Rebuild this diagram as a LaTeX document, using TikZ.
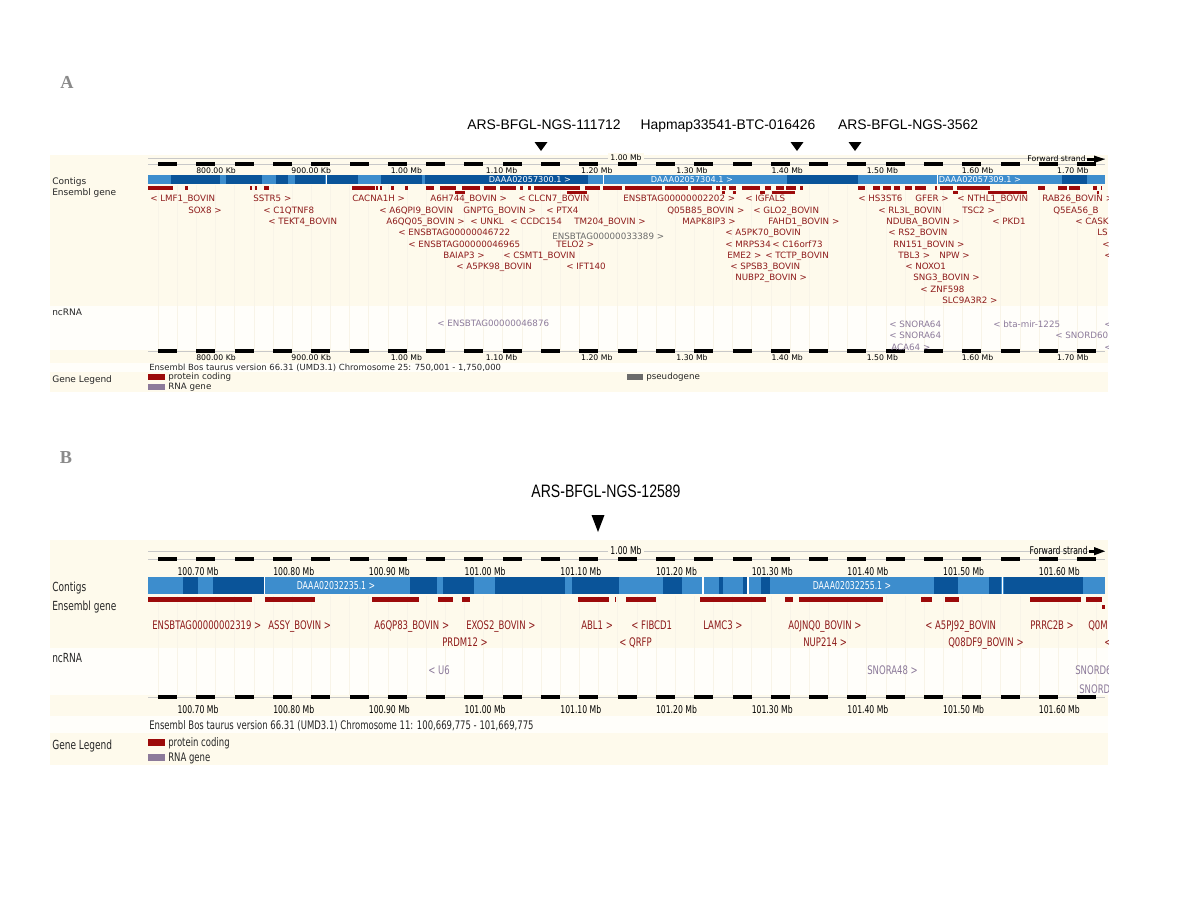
\documentclass[tikz,border=0pt]{standalone}
\usepackage{fontspec}
\usepackage{xcolor}
\usepackage{tikz}
\usetikzlibrary{positioning}
\newfontfamily\gbsans{DejaVu Sans}
\newfontfamily\gbnarrow{DejaVu Sans}[FakeStretch=0.72]
\newfontfamily\gbarial{Liberation Sans}
\newfontfamily\gbarialn{Liberation Sans}[FakeStretch=0.78]
\newfontfamily\gbserif{Liberation Serif}
\definecolor{gbCream}{HTML}{FEFAEC}
\definecolor{gbPale}{HTML}{FFFEFA}
\definecolor{gbGrid}{HTML}{F8F4E8}
\definecolor{gbLight}{HTML}{3D8DCD}
\definecolor{gbDark}{HTML}{0A5499}
\definecolor{gbGene}{HTML}{9C0A0A}
\definecolor{gbText}{HTML}{8E1B1B}
\definecolor{gbRNA}{HTML}{8C7A9A}
\definecolor{gbPseudo}{HTML}{6B6B6B}
\definecolor{gbRule}{HTML}{C8C8C8}
\definecolor{gbLetter}{HTML}{8A8A8A}
\tikzset{
  gbletter/.style={anchor=base, inner sep=0pt, text=gbLetter, font=\gbserif\bfseries\fontsize{13}{13}\selectfont},
  gbmarkA/.style={anchor=base, inner sep=0pt, font=\gbarial\fontsize{9.9}{11}\selectfont},
  gbmarkB/.style={anchor=base, inner sep=0pt, font=\gbarialn\fontsize{12.8}{14}\selectfont},
  gbtrackA/.style={anchor=west, inner sep=0pt, text=black!85, font=\gbsans\fontsize{6.4}{7}\selectfont},
  gbtrackB/.style={anchor=west, inner sep=0pt, text=black!85, font=\gbnarrow\fontsize{8.9}{10}\selectfont},
  gbtickA/.style={anchor=base, inner sep=0pt, font=\gbsans\fontsize{5.5}{6}\selectfont},
  gbtickB/.style={anchor=base, inner sep=0pt, font=\gbnarrow\fontsize{7.6}{8}\selectfont},
  gblabA/.style={anchor=base west, inner sep=0pt, text=gbText, font=\gbsans\fontsize{6.2}{7}\selectfont},
  gblabB/.style={anchor=base west, inner sep=0pt, text=gbText, font=\gbnarrow\fontsize{8.4}{9}\selectfont},
  gbcontA/.style={inner sep=0pt, text=white, font=\gbsans\fontsize{5.8}{6}\selectfont},
  gbcontB/.style={inner sep=0pt, text=white, font=\gbnarrow\fontsize{7.7}{8}\selectfont},
  gbgrid/.style={draw=gbGrid, line width=0.3pt},
  gbrule/.style={draw=gbRule, line width=0.4pt}
}
\begin{document}
\begin{tikzpicture}[x=0.025cm,y=-0.025cm]
\useasboundingbox (0,0) rectangle (1200,900);
\fill[white] (0,0) rectangle (1200,900);

% ---------- panel A ----------
\node[gbletter] (letA) at (67,88) {A};
\fill[gbCream] (50,155) rectangle (1108,392);
\fill[gbPale] (50,306) rectangle (1108,350);
\fill[gbPale] (50,363) rectangle (1108,372);
\foreach \k in {0,...,49}
  \draw[gbgrid] ({158+19.15*\k},185) -- ++(0,165);

\node[gbmarkA] (mA1) at (544,129) {ARS-BFGL-NGS-111712};
\node[gbmarkA] (mA2) at (728,129) {Hapmap33541-BTC-016426};
\node[gbmarkA] (mA3) at (908,129) {ARS-BFGL-NGS-3562};
\foreach \mx in {541,797,855}
  \fill (\mx-6.5,142) -- (\mx+6.5,142) -- (\mx,151) -- cycle;

\draw[gbrule] (148,158) -- (1105,158);
\node[gbtickA, anchor=center, fill=gbCream, inner sep=1.5pt] (oneA) at (626,158) {1.00 Mb};
\node[gbtickA, anchor=east] (fwdA) at (1086,159) {Forward strand};
\fill (1087,158) rectangle (1096,160.5);
\fill (1094,155.5) -- (1105,159.2) -- (1094,163) -- cycle;
\foreach \ry in {164,351} {
  \draw[gbrule] (148,\ry) -- (1105,\ry);
  \foreach \k in {0,...,24}
    \fill ({158+38.3*\k},\ry-1.6) rectangle ++(19,3.2);
}
\foreach \t [count=\k from 0] in {800.00 Kb,900.00 Kb,1.00 Mb,1.10 Mb,1.20 Mb,1.30 Mb,1.40 Mb,1.50 Mb,1.60 Mb,1.70 Mb} {
  \node[gbtickA] (tA\k) at ({216+95.2*\k},173.8) {\t};
  \node[gbtickA] (bA\k) at ({216+95.2*\k},360.5) {\t};
}

\fill[gbLight] (148,175) rectangle (1105,184);
\foreach \a/\b in {171/220,226/262,276/288,295/325,327/358,381/422,425/588,787/858,1062/1087}
  \fill[gbDark] (\a,175) rectangle (\b,184);
\foreach \a in {326,603,937}
  \draw[white, line width=0.5pt] (\a,175) -- (\a,184);
\node[gbcontA] (cA1) at (530,179.5) {DAAA02057300.1 >};
\node[gbcontA] (cA2) at (692,179.5) {DAAA02057304.1 >};
\node[gbcontA] (cA3) at (980,179.5) {DAAA02057309.1 >};

\foreach \a/\b in {148/173,185/188,250/252,255/257,264/269,352/375,376/378,380/382,391/394,405/408,426/434,440/456,462/480,484/496,500/516,520/523,528/531,534/580,585/600,603/622,625/662,665/688,691/712,716/720,722/726,729/736,742/760,765/771,776/784,786/796,800/803,858/865,873/880,883/891,894/900,905/912,915/926,935/937,940/953,957/990,1038/1045,1058/1067,1069/1080,1093/1097,1101/1102}
  \fill[gbGene] (\a,186) rectangle (\b,189.5);
\foreach \a/\b in {455/465,567/587,722/725,733/736,760/765,772/795,953/958,988/1027,1097/1099}
  \fill[gbGene] (\a,191) rectangle (\b,194);

\node[gbtrackA] (trA1) at (52,182) {Contigs};
\node[gbtrackA] (trA2) at (52,193) {Ensembl gene};
\node[gbtrackA] (trA3) at (52,312) {ncRNA};
\node[gbtrackA] (trA4) at (52,380) {Gene Legend};

\begin{scope}
\clip (148,150) rectangle (1108,400);
\foreach \gx/\gr/\gt [count=\gi] in {
  150/1/< LMF1\_BOVIN, 253/1/SSTR5 >, 352/1/CACNA1H >, 430/1/A6H744\_BOVIN >, 518/1/< CLCN7\_BOVIN,
  623/1/ENSBTAG00000002202 >, 745/1/< IGFALS, 858/1/< HS3ST6, 915/1/GFER >, 957/1/< NTHL1\_BOVIN, 1042/1/RAB26\_BOVIN >,
  188/2/SOX8 >, 263/2/< C1QTNF8, 379/2/< A6QPI9\_BOVIN, 463/2/GNPTG\_BOVIN >, 546/2/< PTX4, 667/2/Q05B85\_BOVIN >,
  753/2/< GLO2\_BOVIN, 878/2/< RL3L\_BOVIN, 962/2/TSC2 >, 1053/2/Q5EA56\_B,
  268/3/< TEKT4\_BOVIN, 386/3/A6QQ05\_BOVIN >, 470/3/< UNKL, 510/3/< CCDC154, 574/3/TM204\_BOVIN >,
  682/3/MAPK8IP3 >, 768/3/FAHD1\_BOVIN >, 886/3/NDUBA\_BOVIN >, 992/3/< PKD1, 1075/3/< CASKI,
  398/4/< ENSBTAG00000046722, 725/4/< A5PK70\_BOVIN, 888/4/< RS2\_BOVIN, 1097/4/LS,
  408/5/< ENSBTAG00000046965, 556/5/TELO2 >, 725/5/< MRPS34, 772/5/< C16orf73, 893/5/RN151\_BOVIN >, 1102/5/<,
  443/6/BAIAP3 >, 503/6/< CSMT1\_BOVIN, 727/6/EME2 >, 765/6/< TCTP\_BOVIN, 898/6/TBL3 >, 939/6/NPW >, 1104/6/<,
  456/7/< A5PK98\_BOVIN, 566/7/< IFT140, 730/7/< SPSB3\_BOVIN, 905/7/< NOXO1,
  735/8/NUBP2\_BOVIN >, 913/8/SNG3\_BOVIN >, 920/9/< ZNF598, 942/10/SLC9A3R2 >}
  \node[gblabA] (gA\gi) at (\gx,{190.5+11.3*\gr}) {\gt};
\node[gblabA, text=gbPseudo] (gA0) at (552,239.7) {ENSBTAG00000033389 >};
\foreach \gx/\gy/\gt [count=\gi] in {
  437/323/< ENSBTAG00000046876, 889/324/< SNORA64, 889/335.5/< SNORA64, 891/347/ACA64 >,
  993/324/< bta-mir-1225, 1055/335.5/< SNORD60, 1104/324/<, 1104/347/<}
  \node[gblabA, text=gbRNA] (rA\gi) at (\gx,\gy+3.2) {\gt};
\end{scope}

\node[gblabA, text=black!85, font=\gbsans\fontsize{6}{7}\selectfont] (chrA) at (149,370.5)
  {Ensembl Bos taurus version 66.31 (UMD3.1) Chromosome 25: 750,001 - 1,750,000};
\fill[gbGene] (148,374) rectangle (165,380);
\fill[gbRNA] (148,383.5) rectangle (165,389.5);
\fill[gbPseudo] (627,374) rectangle (643,380);
\node[gblabA, text=black!85] (lgA1) at (168,379.5) {protein coding};
\node[gblabA, text=black!85] (lgA2) at (168,389) {RNA gene};
\node[gblabA, text=black!85] (lgA3) at (646,379.5) {pseudogene};

% ---------- panel B ----------
\node[gbletter] (letB) at (66,463) {B};
\fill[gbCream] (50,540) rectangle (1108,765);
\fill[gbPale] (50,648) rectangle (1108,695);
\fill[gbPale] (50,716) rectangle (1108,733);
\foreach \k in {0,...,49}
  \draw[gbgrid] ({158+19.15*\k},596) -- ++(0,99);

\node[gbmarkB] (mB1) at (606,497.5) {ARS-BFGL-NGS-12589};
\fill (591.5,515) -- (604.5,515) -- (598,532) -- cycle;

\draw[gbrule] (148,551) -- (1105,551);
\node[gbtickB, anchor=center, fill=gbCream, inner sep=1.5pt] (oneB) at (626,551) {1.00 Mb};
\node[gbtickB, anchor=east] (fwdB) at (1088,551) {Forward strand};
\fill (1089,549.8) rectangle (1097,552.6);
\fill (1094,547) -- (1105,551.2) -- (1094,555.4) -- cycle;
\foreach \ry in {559,697} {
  \draw[gbrule] (148,\ry) -- (1105,\ry);
  \foreach \k in {0,...,24}
    \fill ({158+38.3*\k},\ry-1.6) rectangle ++(19,3.2);
}
\foreach \t [count=\k from 0] in {100.70 Mb,100.80 Mb,100.90 Mb,101.00 Mb,101.10 Mb,101.20 Mb,101.30 Mb,101.40 Mb,101.50 Mb,101.60 Mb} {
  \node[gbtickB] (tB\k) at ({198+95.7*\k},575) {\t};
  \node[gbtickB] (bB\k) at ({198+95.7*\k},713) {\t};
}

\fill[gbLight] (148,577) rectangle (1105,594);
\foreach \a/\b in {183/198,213/264,410/437,443/474,495/565,572/619,663/682,719/723,743/747,761/770,934/958,989/1001,1004/1083}
  \fill[gbDark] (\a,577) rectangle (\b,594);
\foreach \a in {264.5,703,748,1002.5}
  \draw[white, line width=0.8pt] (\a,577) -- (\a,594);
\node[gbcontB] (cB1) at (336,585.5) {DAAA02032235.1 >};
\node[gbcontB] (cB2) at (852,585.5) {DAAA02032255.1 >};

\foreach \a/\b in {148/252,265/315,372/419,438/453,462/470,578/609,615/616,626/656,700/766,785/793,799/883,921/932,945/959,1030/1081,1086/1102}
  \fill[gbGene] (\a,597) rectangle (\b,602);
\fill[gbGene] (1102,605) rectangle (1105,609);

\node[gbtrackB] (trB1) at (52,588) {Contigs};
\node[gbtrackB] (trB2) at (52,607) {Ensembl gene};
\node[gbtrackB] (trB3) at (52,658) {ncRNA};
\node[gbtrackB] (trB4) at (52,746) {Gene Legend};

\begin{scope}
\clip (148,540) rectangle (1108,770);
\foreach \gx/\gy/\gt [count=\gi] in {
  152/625/ENSBTAG00000002319 >, 268/625/ASSY\_BOVIN >, 374/625/A6QP83\_BOVIN >, 466/625/EXOS2\_BOVIN >,
  581/625/ABL1 >, 631/625/< FIBCD1, 703/625/LAMC3 >, 788/625/A0JNQ0\_BOVIN >, 925/625/< A5PJ92\_BOVIN,
  1030/625/PRRC2B >, 1088/625/Q0M, 442/642/PRDM12 >, 619/642/< QRFP, 803/642/NUP214 >,
  948/642/Q08DF9\_BOVIN >, 1104/642/<}
  \node[gblabB] (gB\gi) at (\gx,\gy+4.3) {\gt};
\foreach \gx/\gy/\gt [count=\gi] in {428/670/< U6, 867/670/SNORA48 >, 1075/670/SNORD6, 1079/689/SNORD}
  \node[gblabB, text=gbRNA] (rB\gi) at (\gx,\gy+4.3) {\gt};
\end{scope}

\node[gblabB, text=black!85] (chrB) at (149,729.3)
  {Ensembl Bos taurus version 66.31 (UMD3.1) Chromosome 11: 100,669,775 - 101,669,775};
\fill[gbGene] (148,739) rectangle (165,746);
\fill[gbRNA] (148,754) rectangle (165,761);
\node[gblabB, text=black!85] (lgB1) at (168,746.3) {protein coding};
\node[gblabB, text=black!85] (lgB2) at (168,761.3) {RNA gene};
\end{tikzpicture}
\end{document}
